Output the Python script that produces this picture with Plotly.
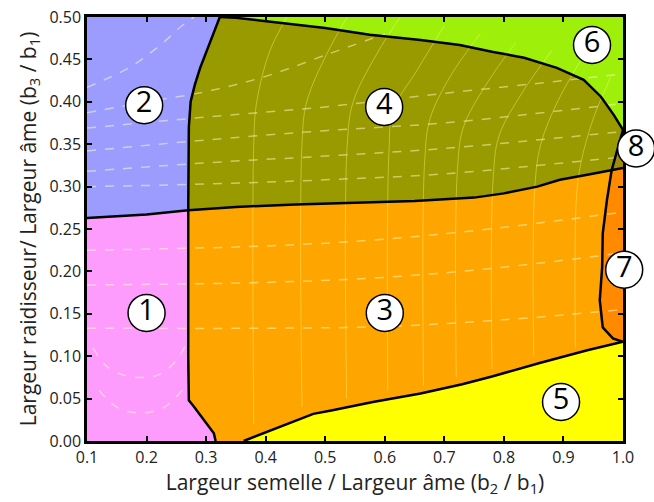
import plotly.graph_objects as go

# ---- boundary curves ----
# upper part of left boundary (regions 2 | 4), top -> junction
xLu = [0.323, 0.312, 0.301, 0.290, 0.281, 0.274, 0.271, 0.270]
yLu = [0.500, 0.480, 0.460, 0.440, 0.420, 0.400, 0.370, 0.272]
# lower part of left boundary (regions 1 | 3), junction -> bottom
xLl = [0.270, 0.270, 0.271, 0.280, 0.296, 0.313, 0.316]
yLl = [0.272, 0.100, 0.048, 0.040, 0.025, 0.009, 0.000]
# horizontal boundary, left part (1 | 2)
xHl = [0.100, 0.200, 0.270]
yHl = [0.263, 0.267, 0.272]
# horizontal boundary, right part (3 | 4)
xHr = [0.270, 0.350, 0.450, 0.550, 0.650, 0.750, 0.800, 0.856, 0.894, 0.940, 0.981, 1.000]
yHr = [0.272, 0.276, 0.279, 0.281, 0.283, 0.287, 0.292, 0.300, 0.308, 0.314, 0.3195, 0.322]
# boundary 4 | 6
x46 = [0.323, 0.350, 0.390, 0.500, 0.575, 0.660, 0.726, 0.780, 0.834, 0.889, 0.934, 0.963, 0.985, 1.000]
y46 = [0.500, 0.499, 0.496, 0.487, 0.479, 0.473, 0.467, 0.459, 0.452, 0.440, 0.426, 0.406, 0.384, 0.367]
# boundary of regions 7/8 (top -> bottom)
x78 = [1.000, 0.990, 0.981, 0.973, 0.966, 0.965, 0.961, 0.966, 0.983, 1.000]
y78 = [0.367, 0.343, 0.3195, 0.284, 0.245, 0.205, 0.166, 0.134, 0.121, 0.117]
# boundary 3 | 5
x5 = [0.363, 0.400, 0.440, 0.480, 0.510, 0.580, 0.660, 0.730, 0.780, 0.860, 0.940, 1.000]
y5 = [0.000, 0.010, 0.021, 0.032, 0.036, 0.046, 0.056, 0.067, 0.076, 0.092, 0.107, 0.117]

# ---- faint contour lines ----
dash_x = [
    [0.1, 0.4, 0.6, 0.8, 1.0],
    [0.1, 0.4, 0.6, 0.8, 1.0],
    [0.1, 0.4, 0.6, 0.8, 1.0],
    [0.1, 0.3, 0.5, 0.7, 0.9, 1.0],
    [0.1, 0.3, 0.5, 0.7, 0.9, 1.0],
    [0.1, 0.3, 0.5, 0.7, 0.9, 1.0],
    [0.1, 0.3, 0.5, 0.7, 0.9, 1.0],
    [0.1, 0.2, 0.3, 0.4, 0.5, 0.6],
    [0.1, 0.17, 0.22, 0.26, 0.28],
    [0.11, 0.13, 0.16, 0.19, 0.22, 0.25, 0.27],
    [0.12, 0.15, 0.19, 0.23, 0.26],
]
dash_y = [
    [0.133, 0.133, 0.135, 0.143, 0.155],
    [0.184, 0.187, 0.193, 0.205, 0.222],
    [0.225, 0.230, 0.238, 0.252, 0.270],
    [0.300, 0.303, 0.308, 0.315, 0.328, 0.335],
    [0.318, 0.328, 0.336, 0.345, 0.358, 0.365],
    [0.342, 0.355, 0.366, 0.375, 0.390, 0.398],
    [0.369, 0.382, 0.394, 0.410, 0.425, 0.433],
    [0.387, 0.400, 0.412, 0.430, 0.455, 0.480],
    [0.417, 0.440, 0.465, 0.490, 0.500],
    [0.110, 0.090, 0.078, 0.075, 0.078, 0.095, 0.120],
    [0.060, 0.040, 0.033, 0.040, 0.060],
]
sol_x = [
    [0.380, 0.380, 0.385, 0.407, 0.436],
    [0.461, 0.461, 0.469, 0.503, 0.537],
    [0.536, 0.537, 0.547, 0.587, 0.626],
    [0.605, 0.607, 0.614, 0.654, 0.700],
    [0.665, 0.667, 0.676, 0.710, 0.760],
    [0.720, 0.722, 0.732, 0.770, 0.820],
    [0.780, 0.782, 0.792, 0.830, 0.880],
    [0.850, 0.852, 0.862, 0.890, 0.930],
    [0.920, 0.922, 0.930, 0.950, 0.980],
]
sol_y = [
    [0.02, 0.35, 0.40, 0.46, 0.50],
    [0.04, 0.35, 0.40, 0.457, 0.50],
    [0.05, 0.35, 0.40, 0.457, 0.50],
    [0.06, 0.34, 0.39, 0.437, 0.49],
    [0.065, 0.33, 0.38, 0.43, 0.48],
    [0.075, 0.32, 0.37, 0.42, 0.47],
    [0.085, 0.31, 0.36, 0.41, 0.46],
    [0.10, 0.30, 0.35, 0.40, 0.45],
    [0.11, 0.29, 0.33, 0.38, 0.43],
]

# ---- region labels ----
lab_text = ["1", "2", "3", "4", "5", "6", "7", "8"]
lab_x = [0.200, 0.196, 0.600, 0.599, 0.896, 0.948, 1.002, 1.022]
lab_y = [0.151, 0.396, 0.151, 0.394, 0.046, 0.467, 0.202, 0.345]

x_ticks = [0.1, 0.2, 0.3, 0.4, 0.5, 0.6, 0.7, 0.8, 0.9, 1.0]
y_ticks = [0.00, 0.05, 0.10, 0.15, 0.20, 0.25, 0.30, 0.35, 0.40, 0.45, 0.50]
x_range = [0.1, 1.0]
y_range = [0.0, 0.5]

col = {
    "1": "#fd9cfd", "2": "#9c9cff", "3": "#ffa500", "4": "#999900",
    "5": "#ffff00", "6": "#9ef00a", "7": "#ff8a00", "8": "#a08a0c",
}

W, H = 654, 502
ML, MR, MT, MB = 87, 0, 17, 61
AXIS_W = 536  # pixel width of the main x axis
plot_w = W - ML - MR
x_dom_end = AXIS_W / plot_w
# overlay axis spanning the full plot width (incl. right overhang) with the same scale
x2_range = [x_range[0], x_range[0] + (x_range[1] - x_range[0]) / x_dom_end]

# ---- polygons built from the boundaries ----
def rev(a):
    return list(reversed(a))

polys = {}
polys["2"] = ([0.1] + xLu + rev(xHl)[1:], [0.5] + yLu + rev(yHl)[1:])
polys["1"] = (xHl + xLl[1:] + [0.1], yHl + yLl[1:] + [0.0])
polys["6"] = (x46 + [1.0], y46 + [0.5])
polys["4"] = (x46 + x78[1:3] + rev(xHr)[2:] + rev(xLu)[1:],
              y46 + y78[1:3] + rev(yHr)[2:] + rev(yLu)[1:])
polys["8"] = (x78[0:3] + [1.0], y78[0:3] + [0.322])
polys["7"] = (x78[2:] + [1.0], y78[2:] + [0.322])
polys["3"] = (xHr[:-1] + x78[3:] + rev(x5)[1:] + [0.316] + rev(xLl)[1:],
              yHr[:-1] + y78[3:] + rev(y5)[1:] + [0.0] + rev(yLl)[1:])
polys["5"] = (x5 + [1.0], y5 + [0.0])

fig = go.Figure()
for k in ["1", "2", "3", "4", "5", "6", "7", "8"]:
    px, py = polys[k]
    fig.add_trace(go.Scatter(x=px, y=py, mode="lines", fill="toself",
                             fillcolor=col[k], line=dict(width=0),
                             hoverinfo="skip", showlegend=False))

for xs, ys in zip(dash_x, dash_y):
    fig.add_trace(go.Scatter(x=xs, y=ys, mode="lines", line_shape="spline",
                             line=dict(color="rgba(255,255,200,0.5)", width=1.5, dash="dash"),
                             hoverinfo="skip", showlegend=False))
for xs, ys in zip(sol_x, sol_y):
    fig.add_trace(go.Scatter(x=xs, y=ys, mode="lines", line_shape="spline",
                             line=dict(color="rgba(255,255,120,0.4)", width=1),
                             hoverinfo="skip", showlegend=False))

bounds = [
    (xLu + xLl[1:], yLu + yLl[1:]),
    (xHl + xHr[1:], yHl + yHr[1:]),
    (x46, y46),
    (x78, y78),
    (x5, y5),
]
for xs, ys in bounds:
    fig.add_trace(go.Scatter(x=xs, y=ys, mode="lines",
                             line=dict(color="black", width=2.5),
                             hoverinfo="skip", showlegend=False))

# circled region numbers on the overlay axes (so 7 and 8 can overhang the frame)
fig.add_trace(go.Scatter(
    x=lab_x, y=lab_y, xaxis="x2", yaxis="y2",
    mode="markers+text", text=lab_text,
    textposition="middle center", cliponaxis=False,
    marker=dict(size=37, color="white", line=dict(color="black", width=1.5)),
    textfont=dict(size=29, color="black", family="Open Sans"),
    hoverinfo="skip", showlegend=False))

axis_common = dict(
    ticks="inside", ticklen=5, tickwidth=2, tickcolor="black",
    showline=True, linecolor="black", linewidth=2.5, mirror="ticks",
    showgrid=False, zeroline=False, automargin=False,
    tickfont=dict(size=16, color="#222222"),
)

fig.update_layout(
    width=W, height=H,
    margin=dict(l=ML, r=MR, t=MT, b=MB, autoexpand=False),
    paper_bgcolor="white", plot_bgcolor="rgba(0,0,0,0)",
    font=dict(family="Open Sans", color="#222222"),
    xaxis=dict(
        domain=[0, x_dom_end], anchor="y",
        range=x_range, tickvals=x_ticks, tickformat=".1f",
        title=dict(text="Largeur semelle / Largeur âme (b<sub>2</sub> / b<sub>1</sub>)",
                   font=dict(size=21), standoff=6),
        **axis_common,
    ),
    yaxis=dict(
        domain=[0, 1], anchor="x",
        range=y_range, tickvals=y_ticks, tickformat=".2f",
        title=dict(text="Largeur raidisseur/ Largeur âme (b<sub>3</sub> / b<sub>1</sub>)",
                   font=dict(size=21), standoff=8),
        **axis_common,
    ),
    xaxis2=dict(domain=[0, 1], range=x2_range, anchor="y2", visible=False,
                showgrid=False, zeroline=False, automargin=False),
    yaxis2=dict(domain=[0, 1], range=y_range, anchor="x2", visible=False,
                showgrid=False, zeroline=False, automargin=False),
)

fig.write_html("out.html")
